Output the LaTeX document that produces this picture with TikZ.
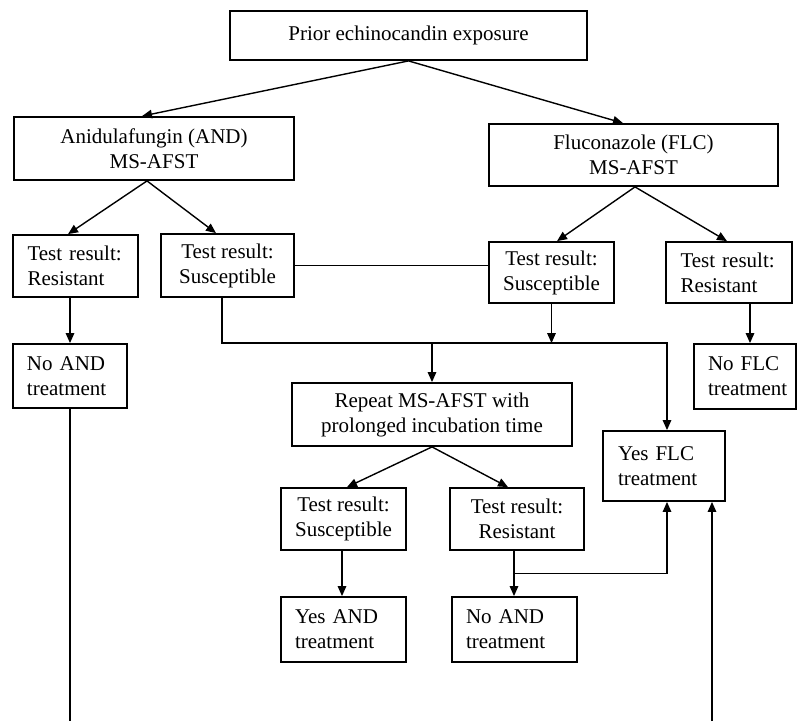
\documentclass[tikz,border=0pt]{standalone}
\usepackage{fontspec}
\setmainfont{Liberation Serif}
\usetikzlibrary{arrows.meta,calc}
\begin{document}
\begin{tikzpicture}[x=1pt,y=-1pt,
 box/.style={draw, line width=1.8pt, inner sep=0pt, font=\fontsize{21}{25}\selectfont},
 cbox/.style={box, align=center},
 lbox/.style={box, align=left},
 con/.style={line width=1.4pt},
 arr/.style={con, -{Triangle[length=10pt,width=8.5pt]}}]
\useasboundingbox (0,0) rectangle (797,721);
\node[cbox, minimum width=357pt, minimum height=49pt] (top) at (408.5,35.5) {Prior echinocandin exposure};
\node[cbox, minimum width=280pt, minimum height=63pt] (and) at (154,148.5) {Anidulafungin (AND)\\MS-AFST};
\node[cbox, minimum width=289pt, minimum height=62pt] (flc) at (633.5,155) {Fluconazole (FLC)\\MS-AFST};
\node[lbox, minimum width=125pt, minimum height=62pt, text width=96pt] (andR) at (75.5,266) {Test result:\\Resistant};
\node[cbox, minimum width=133pt, minimum height=63pt] (andS) at (227.5,265.5) {Test result:\\Susceptible};
\node[cbox, minimum width=125pt, minimum height=61pt] (flcS) at (551.5,272.5) {Test result:\\Susceptible};
\node[lbox, minimum width=126pt, minimum height=61pt, text width=97pt] (flcR) at (729,272.5) {Test result:\\Resistant};
\node[lbox, minimum width=114pt, minimum height=64pt, text width=86pt] (noAND1) at (70,376) {No AND\\treatment};
\node[lbox, minimum width=102pt, minimum height=65pt, text width=74pt] (noFLC) at (745,376.5) {No FLC\\treatment};
\node[cbox, minimum width=280pt, minimum height=63pt] (rep) at (432,414.5) {Repeat MS-AFST with\\prolonged incubation time};
\node[lbox, minimum width=122pt, minimum height=70pt, text width=92pt] (yesFLC) at (664,466) {Yes FLC\\treatment};
\node[cbox, minimum width=125pt, minimum height=62pt] (ts2) at (343.5,519) {Test result:\\Susceptible};
\node[cbox, minimum width=134pt, minimum height=62pt] (tr2) at (517,519) {Test result:\\Resistant};
\node[lbox, minimum width=125pt, minimum height=65pt, text width=97pt] (yesAND) at (343.5,629.5) {Yes AND\\treatment};
\node[lbox, minimum width=125pt, minimum height=65pt, text width=97pt] (noAND2) at (514.5,629.5) {No AND\\treatment};

\draw[arr] (top.south) -- ([xshift=-12pt]and.north);
\draw[arr] (top.south) -- ([xshift=-10.5pt]flc.north);
\coordinate (aS) at ([xshift=-7pt]and.south);
\draw[arr] (aS) -- ([xshift=-7.5pt]andR.north);
\draw[arr] (aS) -- ([xshift=-11.5pt]andS.north);
\coordinate (fS) at ([xshift=1.5pt]flc.south);
\draw[arr] (fS) -- ([xshift=5.5pt]flcS.north);
\draw[arr] (fS) -- ([xshift=-2pt]flcR.north);
\draw[con] (andS.east) -- (andS.east -| flcS.west);
\draw[arr] ([xshift=-5.5pt]andR.south) -- ([xshift=-5.5pt]andR.south |- noAND1.north);
\coordinate (bl) at (70,721);
\draw[con] (noAND1.south) -- (bl);
\draw[arr] ([xshift=-5.5pt]andS.south) |- ([xshift=3pt]yesFLC.north |- noAND1.north) -- ([xshift=3pt]yesFLC.north);
\draw[arr] (flcS.south) -- (flcS.south |- noAND1.north);
\draw[arr] (rep.north |- noAND1.north) -- (rep.north);
\draw[arr] ([xshift=21pt]flcR.south) -- ([xshift=21pt]flcR.south |- noFLC.north);
\draw[arr] (rep.south) -- ([xshift=3.5pt]ts2.north);
\draw[arr] (rep.south) -- ([xshift=-9pt]tr2.north);
\draw[arr] ([xshift=-1.5pt]ts2.south) -- ([xshift=-1.5pt]ts2.south |- yesAND.north);
\draw[arr] ([xshift=-3pt]tr2.south) -- ([xshift=-3pt]tr2.south |- noAND2.north);
\coordinate (jr) at ($([xshift=-3pt]tr2.south)!0.5!([xshift=-3pt]noAND2.north)$);
\draw[arr] (jr) -| ([xshift=3pt]yesFLC.south);
\coordinate (brb) at (712,721);
\draw[arr] (brb) -- (brb |- yesFLC.south);
\end{tikzpicture}
\end{document}
